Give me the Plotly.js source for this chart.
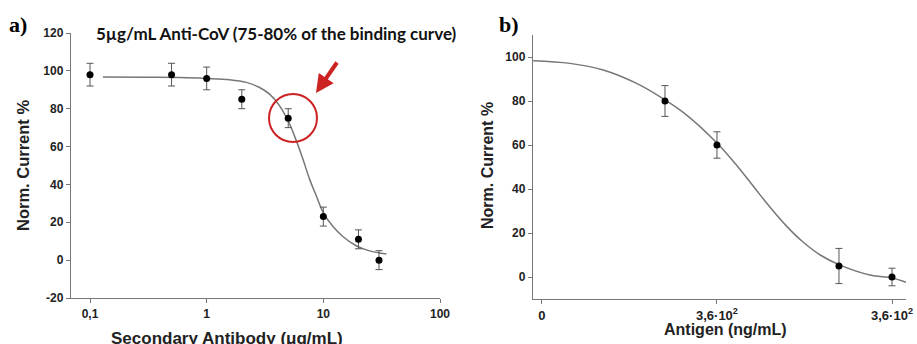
<!DOCTYPE html>
<html>
<head>
<meta charset="utf-8">
<script src="https://cdn.plot.ly/plotly-3.0.1.min.js"></script>
<style>html,body{margin:0;padding:0;background:#fff;}#chart{width:917px;height:344px;}</style>
</head>
<body>
<div id="chart"></div>
<script>
// Panel a: secondary antibody (ug/mL) vs normalized current
const antibodyConc = [0.1, 0.5, 1, 2, 5, 10, 20, 30];
const antibodyCurrent = [98, 98, 96, 85, 75, 23, 11, 0];
const antibodyErr = [6, 6, 6, 5, 5, 5, 5, 5];
const antibodyFitX = [0.129, 0.3, 0.587, 1, 1.57, 2.19, 2.84, 3.46, 4.22, 5.15, 5.87, 6.68, 7.62, 8.7, 10, 12.1, 14.7, 19.1, 24.9, 34.7];
const antibodyFitY = [96.7, 96.6, 96.5, 96, 95.3, 93.9, 91.2, 87.7, 81.5, 71.8, 63, 53.4, 42.8, 34, 25, 17.8, 12.5, 7.6, 4.9, 3.2];
const antibodyTicks = [0.1, 1, 10, 100];
const antibodyTickText = ["0,1", "1", "10", "100"];
const currentTicksA = [-20, 0, 20, 40, 60, 80, 100, 120];
const currentTickTextA = ["-20", "0", "20", "40", "60", "80", "100", "120"];

// Panel b: antigen (ng/mL) vs normalized current (ordinal positions on the axis)
const antigenPos = [0.703, 1, 1.697, 2];
const antigenCurrent = [80, 60, 5, 0];
const antigenErr = [7, 6, 8, 4];
const antigenFitX = [-0.05, 0.16, 0.35, 0.541, 0.703, 0.827, 1.0, 1.11, 1.21, 1.30, 1.40, 1.49, 1.59, 1.70, 1.874, 2.0, 2.08];
const antigenFitY = [98.3, 97.1, 94.1, 88, 80.5, 73.6, 60.9, 51, 41, 32, 22.9, 16, 10, 5.5, 0.9, -0.4, -2.4];
const antigenTicks = [0, 1, 2];
const antigenTickText = ["0", "3,6·10<sup>2</sup>", "3,6·10<sup>2</sup>"];
const currentTicksB = [0, 20, 40, 60, 80, 100];

const W = 917, H = 344;
const px = v => v / W;
const py = v => 1 - v / H;

const tickFont = {family: "Liberation Sans, Arial, sans-serif", size: 12, color: "#222", weight: 700};
const axisCommon = {
  showgrid: false, zeroline: false, showline: true, linecolor: "#777", linewidth: 1.2,
  ticks: "outside", ticklen: 4, tickcolor: "#777", tickwidth: 1, tickfont: tickFont, fixedrange: true
};

const traces = [
  {x: antibodyFitX, y: antibodyFitY, xaxis: "x", yaxis: "y", mode: "lines",
   line: {color: "#777", width: 1.5, shape: "spline"}, hoverinfo: "skip"},
  {x: antibodyConc, y: antibodyCurrent, xaxis: "x", yaxis: "y", mode: "markers",
   marker: {color: "#000", size: 7},
   error_y: {type: "data", array: antibodyErr, visible: true, color: "#555", thickness: 1, width: 3.5}},
  {x: antigenFitX, y: antigenFitY, xaxis: "x2", yaxis: "y2", mode: "lines",
   line: {color: "#777", width: 1.5, shape: "spline"}, hoverinfo: "skip"},
  {x: antigenPos, y: antigenCurrent, xaxis: "x2", yaxis: "y2", mode: "markers",
   marker: {color: "#000", size: 7},
   error_y: {type: "data", array: antigenErr, visible: true, color: "#555", thickness: 1, width: 3.5}}
];

const ann = (text, x, y, font, extra) => Object.assign({
  text: text, xref: "paper", yref: "paper", x: px(x), y: py(y), showarrow: false,
  xanchor: "center", yanchor: "middle", font: font
}, extra || {});

const titleFont = size => ({family: "Liberation Sans, Arial, sans-serif", size: size, color: "#222", weight: 700});
const panelFont = {family: "Liberation Serif, Times New Roman, serif", size: 22, color: "#000", weight: 700};

const layout = {
  width: W, height: H, margin: {l: 0, r: 0, t: 0, b: 0},
  paper_bgcolor: "#fff", plot_bgcolor: "#fff", showlegend: false,
  xaxis: Object.assign({}, axisCommon, {
    type: "log", domain: [px(71), px(440)], range: [-1.163, 2.0], anchor: "y",
    tickvals: antibodyTicks, ticktext: antibodyTickText
  }),
  yaxis: Object.assign({}, axisCommon, {
    domain: [1 - 298 / H, 1 - 33 / H], range: [-20, 120], anchor: "x",
    tickvals: currentTicksA, ticktext: currentTickTextA
  }),
  xaxis2: Object.assign({}, axisCommon, {
    domain: [px(533), px(906)], range: [-0.051, 2.08], anchor: "y2",
    tickvals: antigenTicks, ticktext: antigenTickText,
    tickfont: {family: "Liberation Sans, Arial, sans-serif", size: 13, color: "#222", weight: 700}
  }),
  yaxis2: Object.assign({}, axisCommon, {
    domain: [1 - 299 / H, 1 - 35 / H], range: [-10, 110], anchor: "x2",
    tickvals: currentTicksB
  }),
  shapes: [
    {type: "circle", xref: "paper", yref: "paper", xsizemode: "pixel", ysizemode: "pixel",
     xanchor: px(293), yanchor: py(118), x0: -24, x1: 24, y0: -24, y1: 24,
     line: {color: "#cc2222", width: 2}}
  ],
  annotations: [
    ann("a)", 18, 24, panelFont),
    ann("b)", 509, 24, panelFont),
    ann("5µg/mL Anti-CoV (75-80% of the binding curve)", 276, 34,
        {family: "Lato, sans-serif", size: 17, color: "#111", weight: 700}),
    {text: "", xref: "paper", yref: "paper", x: px(316), y: py(93), ax: 22, ay: -32,
     showarrow: true, arrowhead: 2, arrowsize: 0.9, arrowwidth: 4, arrowcolor: "#cc2222", standoff: 0},
    ann("Norm. Current %", 23, 166, titleFont(16.5), {textangle: -90}),
    ann("Norm. Current %", 487, 166, titleFont(16), {textangle: -90}),
    ann("Secondary Antibody (μg/mL)", 227, 338, titleFont(17)),
    ann("Antigen (ng/mL)", 725, 329, titleFont(16))
  ]
};

Plotly.newPlot("chart", traces, layout, {displayModeBar: false, staticPlot: true});
</script>
</body>
</html>
